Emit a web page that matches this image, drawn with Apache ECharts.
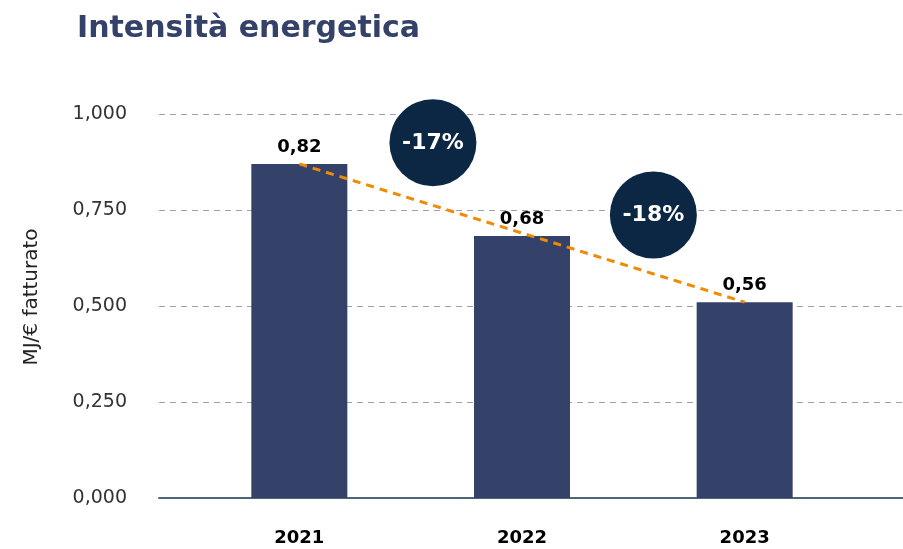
<!DOCTYPE html>
<html>
<head>
<meta charset="utf-8">
<script src="https://cdn.jsdelivr.net/npm/echarts@6/dist/echarts.min.js"></script>
<style>
html,body{margin:0;padding:0;background:#fff;}
#chart{width:903px;height:549px;}
</style>
</head>
<body>
<div id="chart"></div>
<script>
// dati
var anni = ['2021', '2022', '2023'];
var altezze = [0.87, 0.682, 0.51];          // altezza delle barre
var etichette = ['0,82', '0,68', '0,56'];   // valori scritti sopra
var trend = [0.87, '-', 0.51];              // linea tratteggiata arancio
var varX = [0.6, 1.59];                     // posizione dei cerchi (indice categoria)
var varY = [0.925, 0.737];
var varTesto = ['-17%', '-18%'];

var blu = '#34426a';
var font = '"DejaVu Sans", "Noto Sans", sans-serif';

var myChart = echarts.init(document.getElementById('chart'));
var option = {
	backgroundColor: '#fff',
	animation: false,
	title: {
		text: 'Intensità energetica',
		left: 72, top: 9,
		textStyle: {fontFamily: font, fontSize: 30, fontWeight: 'bold', color: blu}
	},
	grid: [
		{left: 159, right: 0, top: 114, bottom: 51},   // griglia di sfondo
		{left: 188, right: 47, top: 114, bottom: 51}   // barre
	],
	xAxis: [
		{gridIndex: 0, type: 'category', data: [''],
			axisLine: {show: true, lineStyle: {color: '#4d6479', width: 2}},
			axisTick: {show: false}, axisLabel: {show: false}},
		{gridIndex: 1, type: 'category', data: anni,
			axisLine: {show: false}, axisTick: {show: false},
			axisLabel: {margin: 31, fontFamily: font, fontSize: 18, fontWeight: 'bold', color: '#000'}},
		{gridIndex: 1, type: 'value', min: -0.5, max: 2.5, show: false}
	],
	yAxis: [
		{gridIndex: 0, type: 'value', min: 0, max: 1, interval: 0.25,
			name: 'MJ/€ fatturato', nameLocation: 'middle', nameGap: 117,
			nameTextStyle: {fontFamily: font, fontSize: 20, color: '#222', padding: [0, 0, 0, 18]},
			axisLine: {show: false}, axisTick: {show: false},
			axisLabel: {margin: 32, fontFamily: font, fontSize: 19, color: '#333',
				formatter: function (v) { return v.toFixed(3).replace('.', ','); }},
			splitLine: {show: true, lineStyle: {color: '#a19fbd', type: [6, 5], width: 1}}},
		{gridIndex: 1, type: 'value', min: 0, max: 1, show: false}
	],
	series: [
		{
			type: 'bar', xAxisIndex: 1, yAxisIndex: 1,
			barWidth: 96,
			itemStyle: {color: blu},
			label: {show: true, position: 'top', distance: 8,
				fontFamily: font, fontSize: 18, fontWeight: 'bold', color: '#000',
				formatter: function (p) { return etichette[p.dataIndex]; }},
			data: altezze,
			z: 2
		},
		{
			type: 'line', xAxisIndex: 1, yAxisIndex: 1,
			data: trend, connectNulls: true,
			symbol: 'none',
			lineStyle: {color: '#f08a00', width: 3, type: [8, 6]},
			z: 3
		},
		{
			type: 'scatter', xAxisIndex: 2, yAxisIndex: 1,
			symbolSize: 87,
			itemStyle: {color: '#0b2744', opacity: 1},
			label: {show: true, position: 'inside',
				fontFamily: font, fontSize: 22, fontWeight: 'bold', color: '#fff',
				formatter: function (p) { return varTesto[p.dataIndex]; }},
			data: varX.map(function (x, i) { return [x, varY[i]]; }),
			z: 4
		}
	]
};
myChart.setOption(option);
</script>
</body>
</html>
